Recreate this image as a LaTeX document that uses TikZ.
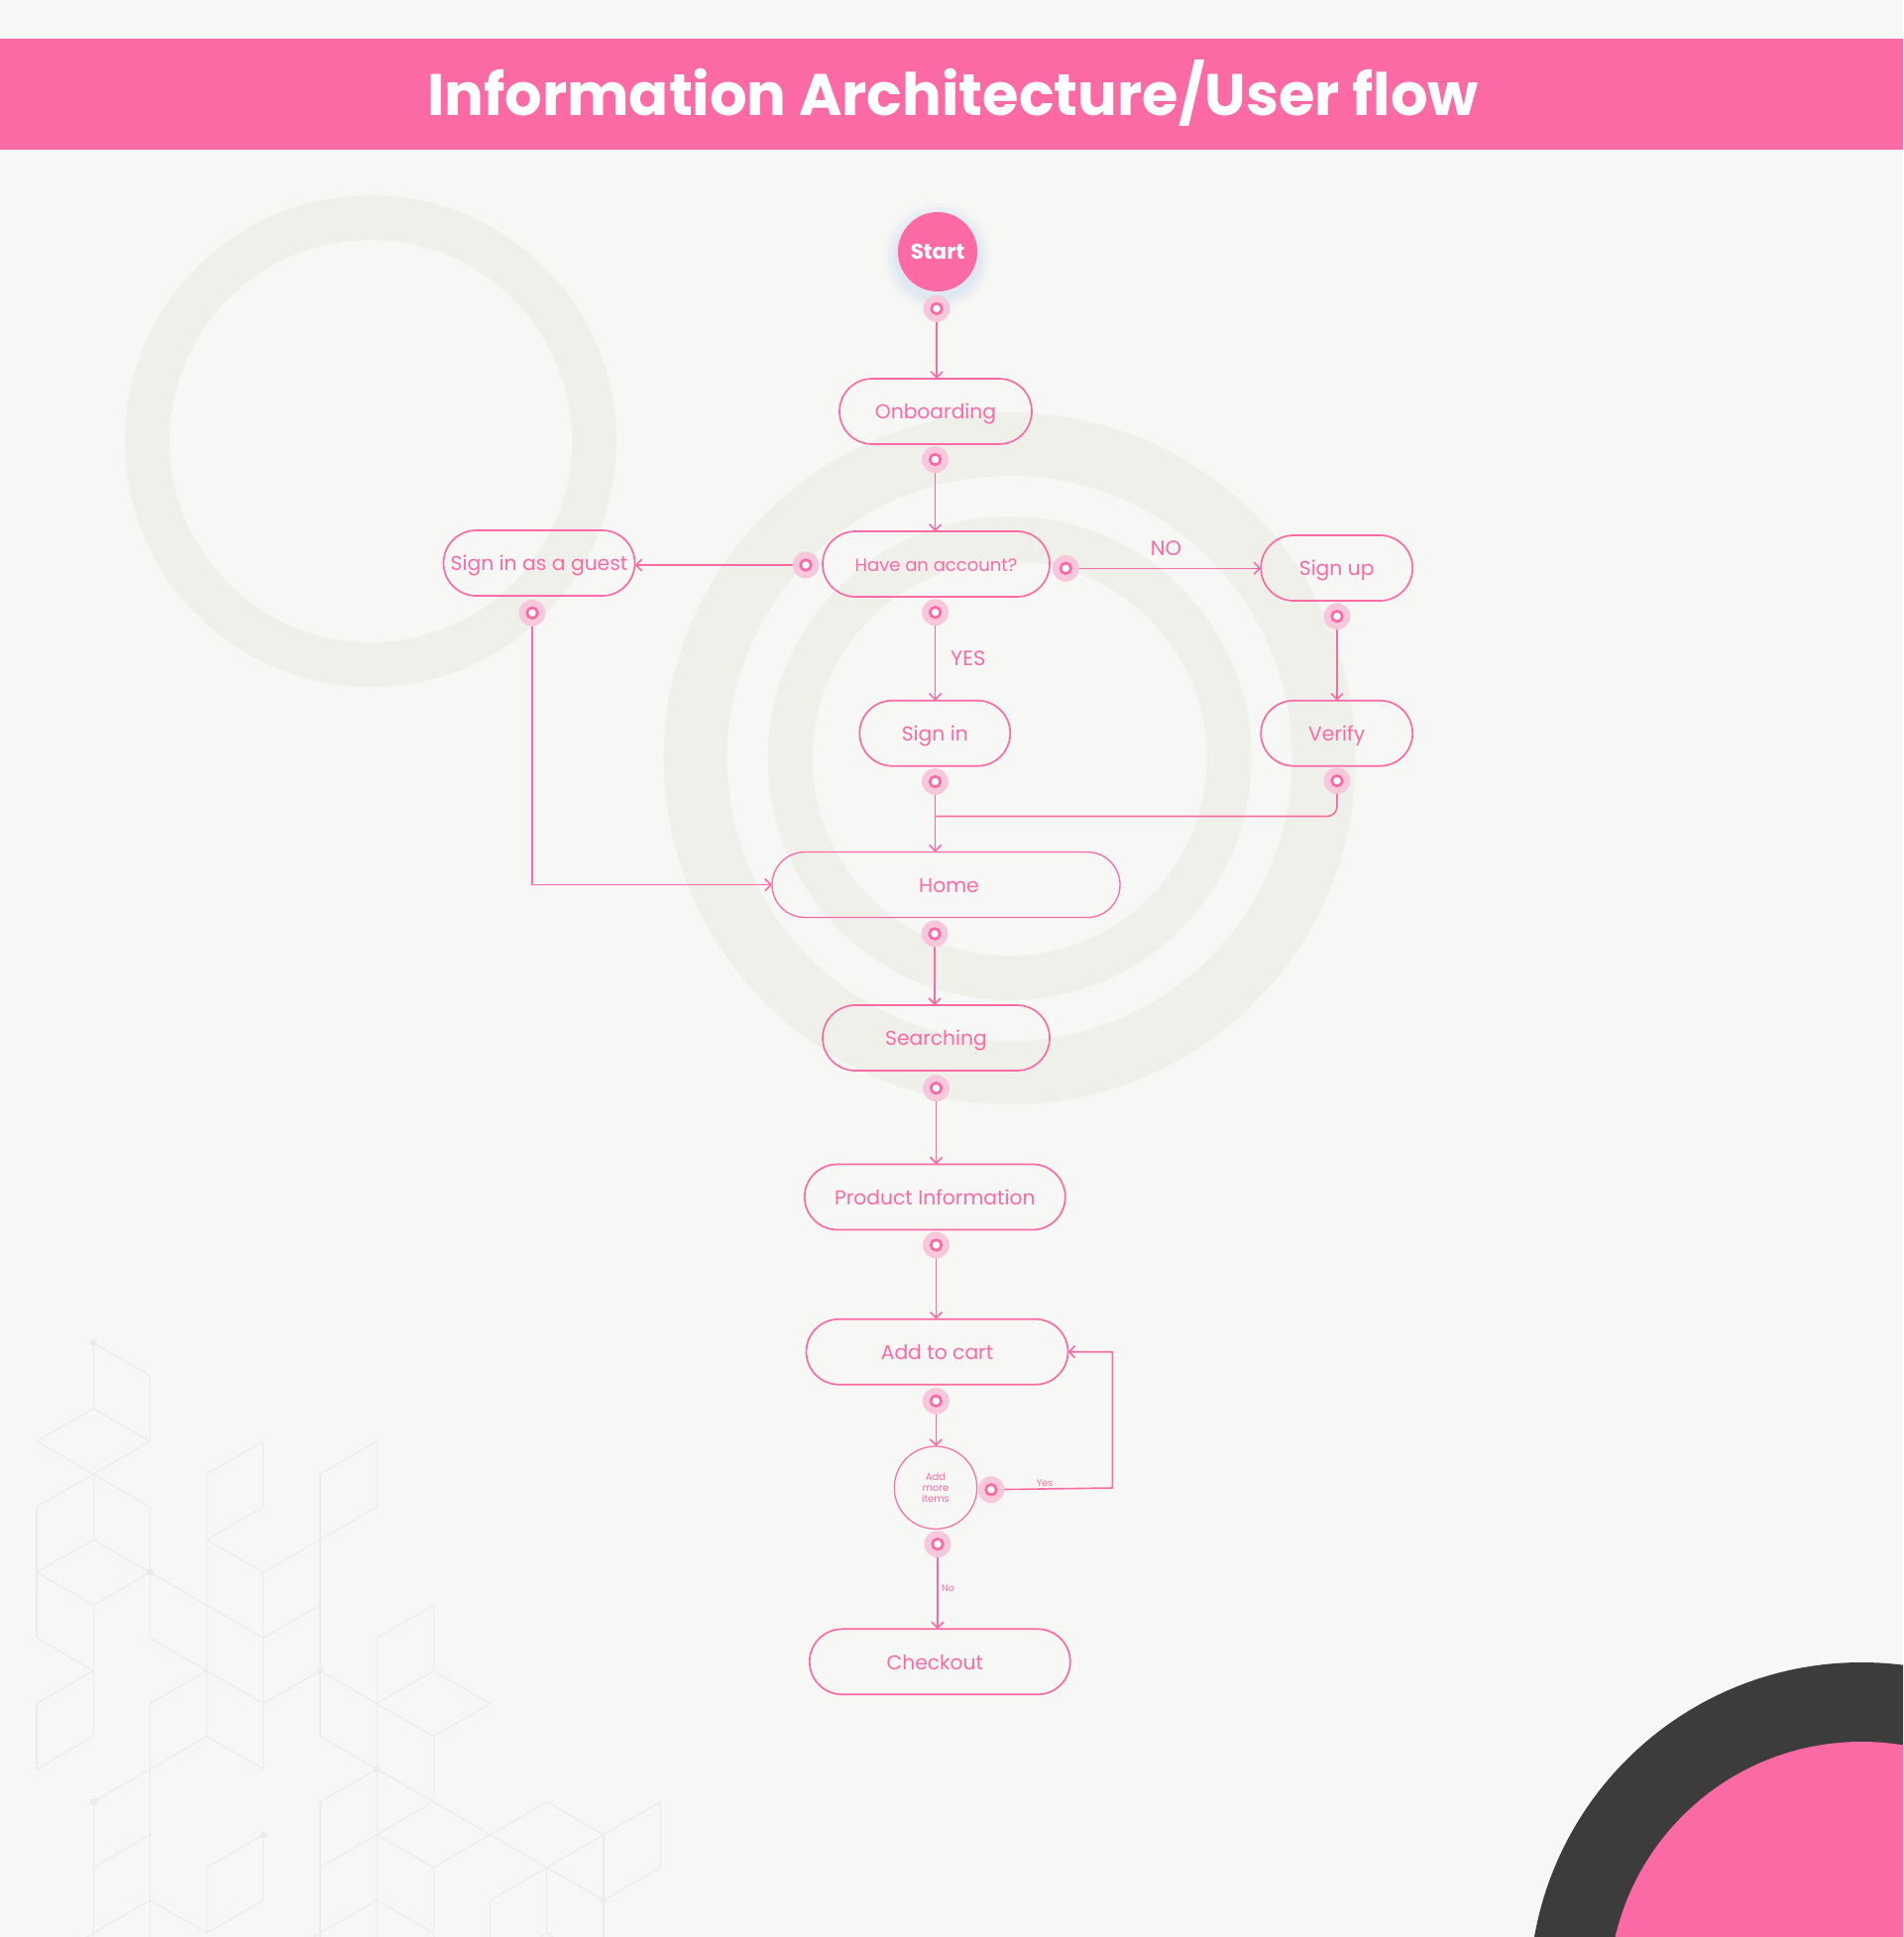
\documentclass[tikz,border=0pt]{standalone}
\usepackage{fontspec}
\setmainfont{Poppins}
\usetikzlibrary{arrows.meta}
\definecolor{bg}{HTML}{F7F7F5}
\definecolor{ringcol}{HTML}{F0F0EB}
\definecolor{patcol}{HTML}{EBEBE8}
\definecolor{pinkc}{HTML}{FC6AA6}
\definecolor{haloc}{HTML}{F7C8DC}
\definecolor{darkc}{HTML}{3C3C3C}
\definecolor{glowc}{HTML}{DCE6F0}
\begin{document}
\begin{tikzpicture}[x=1pt,y=-1pt,
  box/.style={draw=pinkc, line width=1.7pt, rounded corners=33pt, minimum height=66pt,
    inner sep=0pt, outer sep=0pt, text=pinkc, font=\fontsize{20.3}{24}\selectfont,
    text height=15.6pt, text depth=0pt},
  conn/.style={draw=pinkc, line width=1.6pt, -{Straight Barb[length=6pt,width=12pt]}},
  plain/.style={draw=pinkc, line width=1.6pt},
  halo/.style={circle, fill=haloc, minimum size=27pt, inner sep=0pt},
  ring/.style={circle, draw=pinkc, line width=2.7pt, fill=white, minimum size=10.6pt, inner sep=0pt},
  pat/.style={draw=patcol, line width=1.2pt},
  lbl/.style={text=pinkc, inner sep=0pt}
]
\useasboundingbox (0,0) rectangle (1920,1954);
\fill[bg] (0,0) rectangle (1920,1954);

% header band
\fill[pinkc] (0,38.6) rectangle (1920,150.8);
\node[anchor=base, text=white, inner sep=0pt, font=\fontsize{59}{70}\selectfont\bfseries] (title) at (961.5,116.7) {Information Architecture/User flow};

% background rings
\fill[ringcol, even odd rule] (374,445) circle (248) (374,445) circle (203);
\fill[ringcol, even odd rule] (1018.7,765) circle (349) (1018.7,765) circle (285);
\fill[ringcol, even odd rule] (1018.7,765) circle (244) (1018.7,765) circle (199);

% isometric pattern
\begin{scope}
\clip (0,0) rectangle (1920,1954);
\foreach \a/\b/\c/\d in {1/0/1/2, 1/0/2/1, 2/1/2/3, 1/2/0/3, 1/2/2/3, 0/3/1/4, 2/3/1/4,
  1/4/0/5, 1/4/1/6, 1/4/2/5, 0/5/0/9, 0/9/1/10, 1/6/0/7, 1/6/2/7, 0/7/1/8, 2/7/1/8,
  2/5/2/9, 2/9/3/10, 2/7/3/8, 3/8/4/9, 1/8/1/12, 1/10/0/11, 0/11/0/13, 0/13/1/12,
  3/4/4/3, 4/3/4/5, 4/5/3/6, 3/4/3/12, 3/6/4/7, 4/7/5/6, 4/7/4/13, 5/4/6/3, 6/3/6/5,
  6/5/5/6, 5/4/5/12, 5/8/4/9, 3/10/4/11, 3/10/2/11, 2/11/2/19, 4/11/5/10, 5/10/6/11,
  3/12/4/13, 3/12/2/13, 2/13/1/14, 6/9/7/8, 7/8/7/10, 6/9/6/19, 6/11/7/10, 7/10/8/11,
  8/11/7/12, 6/11/7/12, 7/12/7/14, 5/12/6/13, 6/13/5/14, 6/13/7/14, 5/14/5/19,
  7/14/6/15, 7/14/8/15, 6/15/5/16, 6/15/7/16, 8/15/7/16, 7/16/7/19, 8/15/9/14,
  9/14/10/15, 10/15/11/14, 11/14/11/16, 11/16/10/17, 8/15/9/16, 9/16/10/15,
  10/15/10/19, 9/16/10/17, 9/16/8/17, 8/17/8/19, 9/16/9/18, 9/18/8/19, 9/18/10/19,
  1/14/1/19, 2/15/1/16, 2/17/1/18, 1/18/0/19, 2/17/3/18, 3/18/4/17, 4/15/4/17,
  4/15/3/16, 3/16/3/18, 6/17/5/18, 5/18/4/19, 6/17/7/18}
  \draw[pat] ({37+57.2*\a},{1354.7+33.07*\b}) -- ({37+57.2*\c},{1354.7+33.07*\d});
\foreach \a/\b in {1/0, 2/7, 5/10, 6/13, 1/14, 4/15, 10/17}
  \fill[patcol] ({37+57.2*\a},{1354.7+33.07*\b}) circle (3.5);
% bottom-right decoration
\fill[darkc] (1878,2012) circle (335);
\fill[pinkc] (1878,2012) circle (255);
\end{scope}

% start glow
\foreach \r/\o in {54/0.18, 50/0.3, 46/0.45, 43/0.6}
  \fill[glowc, opacity=\o] (946,259) circle (\r);

% nodes
\node[circle, fill=pinkc, minimum size=80pt, inner sep=0pt, text=white,
  font=\fontsize{21.5}{26}\selectfont\bfseries] (start) at (946,254) {Start};
\node[box, minimum width=194pt] (onb) at (944,415) {Onboarding};
\node[box, minimum width=229pt, font=\fontsize{18}{22}\selectfont, text height=15.4pt] (have) at (944.5,569) {Have an account?};
\node[box, minimum width=193pt] (guest) at (544,568) {Sign in as a guest};
\node[box, minimum width=153pt] (signup) at (1348.7,573) {Sign up};
\node[box, minimum width=153pt] (verify) at (1348.7,739.7) {Verify};
\node[box, minimum width=152pt] (signin) at (943.3,739.7) {Sign in};
\node[box, minimum width=351pt, line width=1.3pt] (home) at (954.5,892.5) {\kern3pt Home\kern-3pt};
\node[box, minimum width=229pt] (search) at (944.5,1047) {Searching};
\node[box, minimum width=263pt] (product) at (943.3,1207.5) {Product Information};
\node[box, minimum width=264pt] (cart) at (945.5,1363.7) {Add to cart};
\node[circle, draw=pinkc, line width=1.2pt, minimum size=83.4pt, inner sep=0pt, outer sep=0pt,
  text=pinkc, align=center, font=\fontsize{10}{11}\selectfont] (more) at (944,1500.7) {Add\\more\\items};
\node[box, minimum width=263pt] (checkout) at (948.3,1676.3) {\kern-5pt Checkout\kern5pt};

% port coordinates
\coordinate (p0) at (945,311.3);
\coordinate (p1) at (943.5,463.5);
\coordinate (pg) at (813,570);
\coordinate (pr) at (1075.3,573.3);
\coordinate (pb) at (943.6,617.7);
\coordinate (pgb) at (537,618.3);
\coordinate (psu) at (1349,621.7);
\coordinate (psi) at (943.5,788.5);
\coordinate (pv) at (1349,787.7);
\coordinate (ph) at (943,942);
\coordinate (ps) at (944.5,1097.7);
\coordinate (pp) at (944.5,1256);
\coordinate (pc) at (944.3,1413.3);
\coordinate (pmr) at (1000,1502.7);
\coordinate (pmb) at (946,1557.7);
\coordinate (join) at (943.5,823.5);
\coordinate (loop) at (1122.3,1501);

% connectors
\draw[conn] (p0) -- (p0 |- onb.north);
\draw[conn] (p1) -- (p1 |- have.north);
\draw[conn] (pg) -- (pg -| guest.east);
\draw[conn] (pr) -- (pr -| signup.west);
\draw[conn] (pb) -- (pb |- signin.north);
\draw[conn] (psu) -- (psu |- verify.north);
\draw[conn] (psi) -- (psi |- home.north);
\draw[plain, rounded corners=10pt] (pv) |- (join);
\draw[conn] (pgb) |- (home.west);
\draw[conn] (ph) -- (ph |- search.north);
\draw[conn] (ps) -- (ps |- product.north);
\draw[conn] (pp) -- (pp |- cart.north);
\draw[conn] (pc) -- (pc |- more.north);
\draw[conn] (pmr) -- (loop) |- (cart.east);
\draw[conn] (pmb) -- (pmb |- checkout.north);

% labels
\node[lbl, anchor=base, font=\fontsize{21}{25}\selectfont] (no) at (1176.5,560.3) {NO};
\node[lbl, anchor=base west, font=\fontsize{21}{25}\selectfont] (yes) at (959,671.7) {YES};
\node[lbl, anchor=base, font=\fontsize{9.5}{11}\selectfont] (yes2) at (1054,1499) {Yes};
\node[lbl, anchor=base west, font=\fontsize{9.5}{11}\selectfont] (no2) at (950,1605) {No};

% ports
\foreach \p in {p0,p1,pg,pr,pb,pgb,psu,psi,pv,ph,ps,pp,pc,pmr,pmb}{
  \node[halo] at (\p) {};
  \node[ring] at (\p) {};
}
\end{tikzpicture}
\end{document}
